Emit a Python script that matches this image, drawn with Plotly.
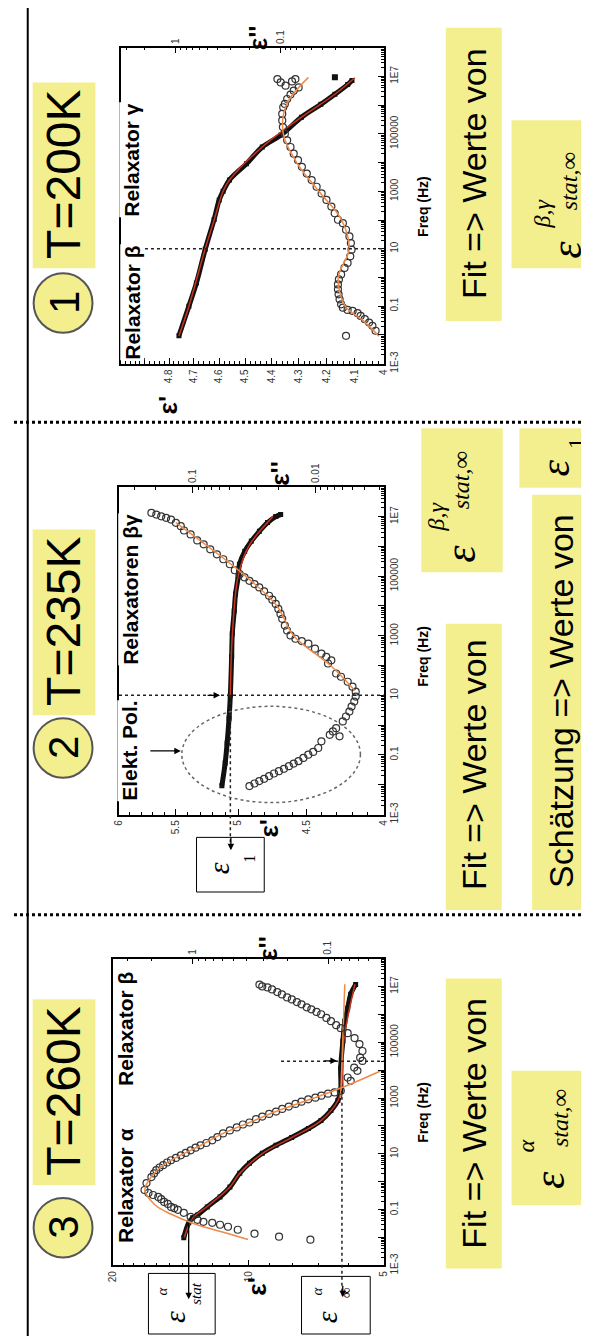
import math
import plotly.graph_objects as go

W, H = 589, 1337

# ======================= DATA =======================
# ---- Panel 1 : T = 200 K ----
p1_eps1_freq = [0.0093, 0.1, 0.64, 9.5, 105, 500, 1000, 2500, 9100, 35000, 91000,
                380000, 1.07e6, 2.4e6, 5.2e6, 7.2e6]
p1_eps1 = [4.76, 4.72, 4.69, 4.655, 4.62, 4.60, 4.585, 4.56, 4.495, 4.435, 4.365,
           4.29, 4.22, 4.17, 4.125, 4.11]
p1_eps1_out_freq = [9.3e6]
p1_eps1_out = [4.17]

p1_eps2_freq = [0.0093, 0.0139, 0.0207, 0.0269, 0.0351, 0.0458, 0.0568, 0.0683, 0.0739,
                0.0887, 0.116, 0.173, 0.258, 0.385, 0.573, 0.853, 1.27, 2.15, 3.2, 5.45,
                9.3, 15.7, 26.8, 45.8, 77.4, 102, 172, 293, 500, 846, 1443, 2460, 4160,
                7100, 12100, 20500, 34900, 59600, 100700, 172000, 293000, 497000,
                846000, 1.1e6, 1.64e6, 2.33e6, 3.2e6, 4.16e6,
                8.07e6, 6.2e6, 4.77e6, 8.07e6, 6.7e6]
p1_eps2 = [0.0236, 0.0123, 0.0132, 0.0142, 0.0156, 0.0171, 0.0183, 0.0204, 0.0228,
           0.0253, 0.0263, 0.0272, 0.0278, 0.0282, 0.0282, 0.0276, 0.0263, 0.0244, 0.0228,
           0.0215, 0.0209, 0.0212, 0.0219, 0.0236, 0.0253, 0.0282, 0.0303, 0.0326, 0.0363,
           0.0404, 0.0451, 0.0503, 0.056, 0.0624, 0.068, 0.0747, 0.0802, 0.0863, 0.0908,
           0.0948, 0.0962, 0.0962, 0.0941, 0.0908, 0.0863, 0.0802, 0.0747, 0.067,
           0.107, 0.0995, 0.0894, 0.072, 0.0775]

p1_fit1_freq = [0.0093, 0.1, 10, 100, 1000, 2500, 35000, 380000, 2.4e6, 9e6]
p1_fit1 = [4.76, 4.72, 4.655, 4.62, 4.585, 4.56, 4.435, 4.29, 4.17, 4.10]
p1_fit2_freq = [0.009, 0.03, 0.1, 1, 10, 100, 1000, 1e4, 1e5, 1e6, 9.3e6]
p1_fit2 = [0.0114, 0.016, 0.024, 0.028, 0.022, 0.026, 0.043, 0.07, 0.094, 0.088, 0.054]

# ---- Panel 2 : T = 235 K ----
p2_eps1_freq = [0.0093, 0.054, 0.25, 1.71, 10, 200, 1170, 6800, 25000, 93000, 250000,
                680000, 1.5e6, 3.2e6, 6.3e6, 1.0e7, 1.17e7]
p2_eps1 = [5.126, 5.10, 5.085, 5.07, 5.06, 5.05, 5.045, 5.03, 5.02, 5.0, 4.99,
           4.95, 4.90, 4.84, 4.78, 4.72, 4.685]

p2_eps2_freq = [0.00903, 0.011, 0.0133, 0.0158, 0.0195, 0.0238, 0.0286, 0.0341, 0.042,
                0.0513, 0.0617, 0.0794, 0.102, 0.126, 0.171, 0.286, 0.42, 0.475, 0.617,
                0.794, 1.33, 1.95, 2.86, 4.2, 6.17, 9.06, 13.3, 19.5, 28.6, 42, 54.1, 117,
                150, 195, 251, 369, 541, 665, 794, 1023, 1503, 2203, 3690, 5410, 7940,
                11700, 16200, 22000, 30900, 42000, 54100, 69700, 90500, 116700, 158000,
                251000, 369000, 541000, 794000, 1.17e6, 1.58e6, 2.51e6, 3.41e6, 4.75e6,
                6.17e6, 7.94e6, 9.06e6, 1.02e7, 1.17e7, 1.33e7]
p2_eps2 = [0.0344, 0.0313, 0.0286, 0.0261, 0.0238, 0.0217, 0.0198, 0.018, 0.0164,
           0.015, 0.0137, 0.0125, 0.0114, 0.0104, 0.00946, 0.00891, 0.00634, 0.00762,
           0.00718, 0.00676, 0.00597, 0.00562, 0.00527, 0.00506, 0.00481, 0.00468,
           0.00468, 0.00497, 0.00544, 0.00617, 0.00676, 0.00787, 0.0074, 0.00813,
           0.00891, 0.01005, 0.01138, 0.01288, 0.01452, 0.01592, 0.01698, 0.0177,
           0.0186, 0.0192, 0.02, 0.021, 0.0224, 0.0238, 0.0261, 0.0286, 0.0313, 0.0344,
           0.0377, 0.0413, 0.0453, 0.0497, 0.0562, 0.0634, 0.0718, 0.0812, 0.0917,
           0.1038, 0.1175, 0.1248, 0.1368, 0.15, 0.1644, 0.1803, 0.1977, 0.2168]

p2_fit1_freq = [10, 1000, 1e5, 1e6, 1e7]
p2_fit1 = [5.06, 5.045, 5.0, 4.92, 4.74]
p2_fit2_freq = [15, 100, 1000, 1e4, 1e5, 1e6, 6.3e6]
p2_fit2 = [0.0048, 0.0075, 0.0150, 0.0205, 0.037, 0.075, 0.137]

# ---- Panel 3 : T = 260 K ----
p3_eps1_freq = [0.0099, 0.034, 0.051, 0.065, 0.126, 0.286, 0.647, 2.04, 4.62, 10.5,
                20.2, 38.9, 81.3, 157, 355, 813, 1820, 12000, 110000, 562000,
                1.66e6, 5.25e6, 1.17e7]
p3_eps1 = [13.93, 13.58, 13.31, 12.98, 12.35, 11.57, 11.0, 10.46, 9.95, 9.32,
           8.69, 8.02, 7.36, 6.9, 6.56, 6.33, 6.24, 6.24, 6.17, 6.11,
           6.02, 5.93, 5.78]

p3_eps2_freq = [0.0084, 0.0108, 0.0138, 0.0191, 0.0244, 0.0288, 0.0339, 0.0368, 0.0434,
                0.0555, 0.0769, 0.0984, 0.113, 0.126, 0.161, 0.19, 0.237, 0.286, 0.336,
                0.396, 0.507, 0.9, 1.47, 1.99, 2.61, 3.25, 3.93, 4.9, 5.92, 7.15, 8.9,
                10.8, 13.4, 16.7, 20.2, 24.5, 30.5, 40, 54, 69, 89, 113, 133, 175, 218,
                270, 328, 407, 494, 617, 745, 902, 1030, 1218, 1435, 1597, 1830, 4160,
                5460, 9440, 12400, 21400, 28100, 48600, 86300, 141000, 212000, 320000,
                409000, 568000, 745000, 1.01e6, 1.22e6, 1.52e6, 1.79e6, 2.29e6, 2.76e6,
                3.44e6, 4.06e6, 5.17e6, 6.27e6, 7.8e6, 9.2e6, 1.0e7, 1.17e7]
p3_eps2 = [0.135, 0.230, 0.349, 0.464, 0.548, 0.627, 0.716, 0.832, 0.920, 1.034, 1.162,
           1.284, 1.366, 1.443, 1.525, 1.622, 1.706, 1.794, 1.959, 2.118, 2.265, 2.19,
           2.015, 1.927, 1.854, 1.754, 1.649, 1.543, 1.443, 1.328, 1.222, 1.124, 1.034,
           0.951, 0.875, 0.792, 0.716, 0.656, 0.596, 0.531, 0.472, 0.425, 0.380, 0.340,
           0.306, 0.272, 0.242, 0.218, 0.195, 0.174, 0.157, 0.140, 0.124, 0.112, 0.100,
           0.0895, 0.0805, 0.068, 0.0716, 0.0607, 0.0641, 0.0557, 0.0579, 0.0557,
           0.0586, 0.0637, 0.0716, 0.0805, 0.0871, 0.0951, 0.1028, 0.1124, 0.1216,
           0.1328, 0.1436, 0.157, 0.1698, 0.185, 0.2005, 0.219, 0.237, 0.259, 0.280,
           0.306, 0.321]

p3_fit1_freq = [0.01, 0.05, 0.13, 0.65, 2, 10.5, 39, 155, 800, 3000, 1e5, 1e6, 1.2e7]
p3_fit1 = [13.9, 13.3, 12.35, 11.0, 10.46, 9.3, 8.0, 6.9, 6.33, 6.2, 6.15, 6.0, 5.8]
p3_fit2_freq = [0.0085, 0.014, 0.03, 0.07, 0.15, 0.5, 1.5, 4, 9, 20, 54, 133, 330,
                1000, 3000, 9300]
p3_fit2 = [0.39, 0.55, 0.95, 1.45, 1.9, 2.25, 2.02, 1.65, 1.22, 0.875, 0.596, 0.38,
           0.242, 0.127, 0.07, 0.041]
p3_fitinf_freq = [1000, 1.2e7]
p3_fitinf = [6.24, 6.11]

# marker values for guide lines
eps_1_p2 = 5.06          # estimated eps_1 at 10 Hz (panel 2)
eps_inf_p3 = 6.2         # eps_inf (alpha) panel 3
f_mark_p3 = 2.1e4        # frequency marker panel 3
f_mark_10 = 10

# tick labels
freq_tickvals = [10.0 ** k for k in range(-3, 9)]
freq_ticktext = ["1E-3", "", "0.1", "", "10", "", "1000", "", "100000", "", "1E7", ""]
p1_e1_ticks = [4.0, 4.1, 4.2, 4.3, 4.4, 4.5, 4.6, 4.7, 4.8, 4.9]
p1_e1_text = ["4", "4.1", "4.2", "4.3", "4.4", "4.5", "4.6", "4.7", "4.8", ""]
p2_e1_ticks = [4, 4.5, 5, 5.5, 6]
p2_e1_text = ["4", "4.5", "5", "5.5", "6"]
p3_e1_ticks = [5, 10, 20]
p3_e1_text = ["5", "10", "20"]
p1_e2_ticks = [0.01, 0.1, 1]
p1_e2_text = ["0.01", "0.1", "1"]
p2_e2_ticks = [0.01, 0.1]
p2_e2_text = ["0.01", "0.1"]
p3_e2_ticks = [0.1, 1]
p3_e2_text = ["0.1", "1"]

# ======================= STYLE / LAYOUT =======================
SANS = "Liberation Sans, Arial, sans-serif"
NARROW = "Liberation Sans Narrow, Liberation Sans, Arial, sans-serif"
SERIF = "Liberation Serif, Times New Roman, serif"
BLACK = "#111111"
RED = "#C8341E"
ORANGE = "#EE8A4A"
YELLOW = "#F4EF8E"


def fx(px):
    return px / W


def fy(py):
    return 1 - py / H


freq_minor = [m * 10.0 ** k for k in range(-3, 8) for m in range(2, 10)]


def dec_minor(ks):
    return [m * 10.0 ** k for k in ks for m in range(2, 10)]


panels = [
    dict(box=(109, 40, 377, 358), e1=(5.0, 4.0), e2=(10 ** 0.526, 10 ** -1.99),
         e1t=(p1_e1_ticks, p1_e1_text, [round(4.0 + 0.02 * i, 2) for i in range(50) if i % 5]),
         e2t=(p1_e2_ticks, p1_e2_text, dec_minor([-2, -1, 0]))),
    dict(box=(107, 482, 377, 812), e1=(6.0, 4.0), e2=(10 ** -0.4, 10 ** -2.56),
         e1t=(p2_e1_ticks, p2_e1_text, [round(4.0 + 0.1 * i, 1) for i in range(20) if i % 5]),
         e2t=(p2_e2_ticks, p2_e2_text, dec_minor([-3, -2, -1]))),
    dict(box=(101, 957, 377, 1266), e1=(20.0, 5.0), e2=(10 ** 0.587, 10 ** -1.413),
         e1t=(p3_e1_ticks, p3_e1_text, [6, 7, 8, 9] + list(range(11, 20))),
         e2t=(p3_e2_ticks, p3_e2_text, dec_minor([-2, -1, 0]))),
]

fig = go.Figure()
layout = {}
tickfont = dict(family=SANS, size=10, color="#333333")

for i, p in enumerate(panels):
    xl, yt, xr, yb = p["box"]
    xa, xb, ya = 2 * i + 1, 2 * i + 2, i + 1
    xa_name = "xaxis" if xa == 1 else f"xaxis{xa}"
    xb_name = f"xaxis{xb}"
    ya_name = "yaxis" if ya == 1 else f"yaxis{ya}"
    xa_ref = "x" if xa == 1 else f"x{xa}"
    ya_ref = "y" if ya == 1 else f"y{ya}"
    common = dict(showgrid=False, zeroline=False, showline=True, linecolor="black",
                  linewidth=1.5, ticks="inside", ticklen=6, tickwidth=1,
                  tickcolor="black", tickangle=-90, tickfont=tickfont, tickmode="array")
    mnr = dict(ticks="inside", ticklen=3, tickwidth=0.8, tickcolor="black", tickmode="array")
    layout[xa_name] = dict(common, type="log", domain=[fx(xl), fx(xr)],
                           range=[math.log10(p["e1"][0]), math.log10(p["e1"][1])],
                           anchor=ya_ref, side="bottom",
                           tickvals=p["e1t"][0], ticktext=p["e1t"][1],
                           minor=dict(mnr, tickvals=p["e1t"][2]))
    layout[xb_name] = dict(common, type="log", overlaying=xa_ref, anchor=ya_ref,
                           side="top",
                           range=[math.log10(p["e2"][0]), math.log10(p["e2"][1])],
                           tickvals=p["e2t"][0], ticktext=p["e2t"][1],
                           minor=dict(mnr, tickvals=p["e2t"][2]))
    layout[ya_name] = dict(common, type="log", domain=[fy(yb), fy(yt)], range=[-3, 8],
                           anchor=xa_ref, side="right", mirror=True,
                           tickvals=freq_tickvals, ticktext=freq_ticktext,
                           minor=dict(mnr, tickvals=freq_minor))


def band(fr, vals, xr, yr):
    fig.add_trace(go.Scatter(x=vals, y=fr, xaxis=xr, yaxis=yr, mode="lines+markers",
                             line=dict(color=BLACK, width=5, shape="spline"),
                             marker=dict(symbol="square", size=5, color=BLACK),
                             showlegend=False, hoverinfo="skip"))


def circles(fr, vals, xr, yr):
    fig.add_trace(go.Scatter(x=vals, y=fr, xaxis=xr, yaxis=yr, mode="markers",
                             marker=dict(symbol="circle-open", size=7, color="#333333",
                                         line=dict(width=1.2)),
                             showlegend=False, hoverinfo="skip"))


def fit(fr, vals, xr, yr, color):
    fig.add_trace(go.Scatter(x=vals, y=fr, xaxis=xr, yaxis=yr, mode="lines",
                             line=dict(color=color, width=1.5, shape="spline"),
                             showlegend=False, hoverinfo="skip"))


# Panel 1
band(p1_eps1_freq, p1_eps1, "x", "y")
fig.add_trace(go.Scatter(x=p1_eps1_out, y=p1_eps1_out_freq, xaxis="x", yaxis="y",
                         mode="markers", marker=dict(symbol="square", size=6, color=BLACK),
                         showlegend=False, hoverinfo="skip"))
circles(p1_eps2_freq, p1_eps2, "x2", "y")
fit(p1_fit1_freq, p1_fit1, "x", "y", RED)
fit(p1_fit2_freq, p1_fit2, "x2", "y", ORANGE)
# Panel 2
band(p2_eps1_freq, p2_eps1, "x3", "y2")
circles(p2_eps2_freq, p2_eps2, "x4", "y2")
fit(p2_fit1_freq, p2_fit1, "x3", "y2", RED)
fit(p2_fit2_freq, p2_fit2, "x4", "y2", ORANGE)
# Panel 3
band(p3_eps1_freq, p3_eps1, "x5", "y3")
circles(p3_eps2_freq, p3_eps2, "x6", "y3")
fit(p3_fit1_freq, p3_fit1, "x5", "y3", RED)
fit(p3_fit2_freq, p3_fit2, "x6", "y3", ORANGE)
fit(p3_fitinf_freq, p3_fitinf, "x5", "y3", ORANGE)

fig.update_layout(**layout)
fig.update_layout(width=W, height=H, margin=dict(l=0, r=0, t=0, b=0),
                  paper_bgcolor="white", plot_bgcolor="rgba(0,0,0,0)", showlegend=False)

shapes = []


def rect(x0, y0, x1, y1, fill=None, line=None, lw=0):
    shapes.append(dict(type="rect", xref="paper", yref="paper", x0=fx(x0), x1=fx(x1),
                       y0=fy(y1), y1=fy(y0), fillcolor=fill or "rgba(0,0,0,0)",
                       line=dict(color=line or "rgba(0,0,0,0)", width=lw), layer="below"))


def line(x0, y0, x1, y1, color="black", width=1.5, dash=None, layer="above"):
    shapes.append(dict(type="line", xref="paper", yref="paper", x0=fx(x0), x1=fx(x1),
                       y0=fy(y0), y1=fy(y1), layer=layer,
                       line=dict(color=color, width=width, dash=dash)))


def circ(cx, cy, r, fill, lc, lw):
    shapes.append(dict(type="circle", xref="paper", yref="paper", x0=fx(cx - r),
                       x1=fx(cx + r), y0=fy(cy + r), y1=fy(cy - r), fillcolor=fill,
                       line=dict(color=lc, width=lw), layer="below"))


# global frame lines
line(14, 0, 14, H, width=2)
line(0, 417, W, 417, width=3, dash="dot")
line(0, 913, W, 913, width=3, dash="dot")

# title boxes + circles
for (y0, y1, cy) in [(75, 262, 297), (525, 712, 745), (998, 1185, 1228)]:
    rect(19, y0, 83, y1, fill=YELLOW)
    circ(50, cy, 30, YELLOW, "#555555", 2)

# right-hand yellow boxes
rect(440, 20, 497, 315, fill=YELLOW)
rect(507, 113, 586, 262, fill=YELLOW)
rect(415, 423, 498, 568, fill=YELLOW)
rect(515, 423, 587, 483, fill=YELLOW)
rect(440, 620, 497, 908, fill=YELLOW)
rect(528, 490, 587, 908, fill=YELLOW)
rect(440, 977, 497, 1269, fill=YELLOW)
rect(507, 1070, 586, 1205, fill=YELLOW)

# white label boxes with frames
rect(186, 835, 255, 890, fill="white", line="black", lw=1)
rect(137, 1274, 205, 1335, fill="white", line="black", lw=1)
rect(293, 1277, 363, 1335, fill="white", line="black", lw=1)

DOT = dict(color="#222", width=1.5, dash="dot")
# guide lines in data space (log axes take data values)
shapes.append(dict(type="line", xref="x domain", yref="y", x0=0, x1=1,
                   y0=f_mark_10, y1=f_mark_10, line=DOT))
shapes.append(dict(type="line", xref="x3 domain", yref="y2", x0=0, x1=1,
                   y0=f_mark_10, y1=f_mark_10, line=DOT))
shapes.append(dict(type="line", xref="x3", yref="paper", x0=eps_1_p2, x1=eps_1_p2,
                   y0=fy(692), y1=fy(845), line=DOT))
shapes.append(dict(type="line", xref="x5", yref="paper", x0=eps_inf_p3, x1=eps_inf_p3,
                   y0=fy(1090), y1=fy(1296), line=DOT))
shapes.append(dict(type="line", xref="x5 domain", yref="y3", x0=0.62, x1=1.0,
                   y0=f_mark_p3, y1=f_mark_p3, line=DOT))
# ellipse (electrode polarisation)
shapes.append(dict(type="circle", xref="paper", yref="paper", x0=fx(171), x1=fx(353),
                   y0=fy(800), y1=fy(703), line=dict(color="#666", width=1.5, dash="dot")))
fig.update_layout(shapes=shapes)


def txt(s, px, py, size, family=SANS, color="black", bg=None, angle=-90):
    fig.add_annotation(text=s, x=fx(px), y=fy(py), xref="paper", yref="paper",
                       showarrow=False, textangle=angle, xanchor="center",
                       yanchor="middle", bgcolor=bg, borderpad=0,
                       font=dict(size=size, family=family, color=color))


def arrow(hx, hy, tx, ty, width=1.3):
    fig.add_annotation(x=fx(hx), y=fy(hy), xref="paper", yref="paper", text="",
                       showarrow=True, ax=tx - hx, ay=ty - hy, arrowhead=2,
                       arrowsize=1, arrowwidth=width, arrowcolor="black")


# titles
txt("T=200K", 51, 168, 48)
txt("T=235K", 51, 618, 48)
txt("T=260K", 51, 1091, 48)
txt("1", 51, 297, 42)
txt("2", 51, 745, 42)
txt("3", 51, 1228, 42)

# relaxator labels (white background hides frame edge)
txt("<b>Relaxator γ</b>", 120, 153, 21, bg="white")
txt("<b>Relaxator β</b>", 120, 296, 21, bg="white")
txt("<b>Relaxatoren βγ</b>", 118, 585, 21, bg="white")
txt("<b>Elekt. Pol.</b>", 118, 748, 21, bg="white")
txt("<b>Relaxator β</b>", 113, 1027, 21, bg="white")
txt("<b>Relaxator α</b>", 113, 1185, 21, bg="white")

# axis titles
for (fy_, e1xy, e2xy) in [(200, (157, 400), (248, 30)), (653, (260, 826), (271, 468)),
                         (1112, (248, 1287), (258, 947))]:
    txt("<b>Freq (Hz)</b>", 416, fy_, 14)
    txt("<b>ε'</b>", e1xy[0], e1xy[1], 26)
    txt("<b>ε''</b>", e2xy[0], e2xy[1], 26)

# right-hand statements
txt("Fit => Werte von", 469, 167, 34, family=NARROW)
txt("Fit => Werte von", 469, 762, 34, family=NARROW)
txt("Schätzung => Werte von", 558, 698, 34, family=NARROW)
txt("Fit => Werte von", 469, 1123, 34, family=NARROW)

# epsilon symbols in yellow boxes
txt("<i>ε</i>", 563, 243, 44, family=SERIF)
txt("<i>β,γ</i>", 538, 207, 24, family=SERIF)
txt("<i>stat,∞</i>", 565, 174, 24, family=SERIF)
txt("<i>ε</i>", 455, 550, 44, family=SERIF)
txt("<i>β,γ</i>", 430, 512, 24, family=SERIF)
txt("<i>stat,∞</i>", 455, 476, 24, family=SERIF)
txt("<i>ε</i>", 551, 463, 42, family=SERIF)
txt("1", 573, 438, 24, family=SERIF)
txt("<i>ε</i>", 545, 1180, 44, family=SERIF)
txt("<i>α</i>", 522, 1146, 24, family=SERIF)
txt("<i>stat,∞</i>", 557, 1118, 24, family=SERIF)

# epsilon symbols in white boxes
txt("<i>ε</i>", 208, 866, 30, family=SERIF)
txt("1", 240, 857, 16, family=SERIF)
txt("<i>ε</i>", 163, 1318, 30, family=SERIF)
txt("<i>α</i>", 151, 1292, 15, family=SERIF)
txt("<i>stat</i>", 186, 1294, 15, family=SERIF)
txt("<i>ε</i>", 318, 1318, 30, family=SERIF)
txt("<i>α</i>", 309, 1292, 15, family=SERIF)
txt("∞", 339, 1293, 15, family=SERIF)

# arrows
arrow(170, 748, 138, 748)          # Elekt. Pol.
arrow(210, 692, 196, 692)          # to eps' at 10 Hz, panel 2
arrow(221, 848, 221, 834)          # into eps_1 box
arrow(178, 1300, 178, 1222)        # eps_stat
arrow(335, 1298, 335, 1285)        # eps_inf
arrow(329, 1060, 315, 1060)        # panel 3 marker

fig.write_html("out.html", config={"displayModeBar": False})
